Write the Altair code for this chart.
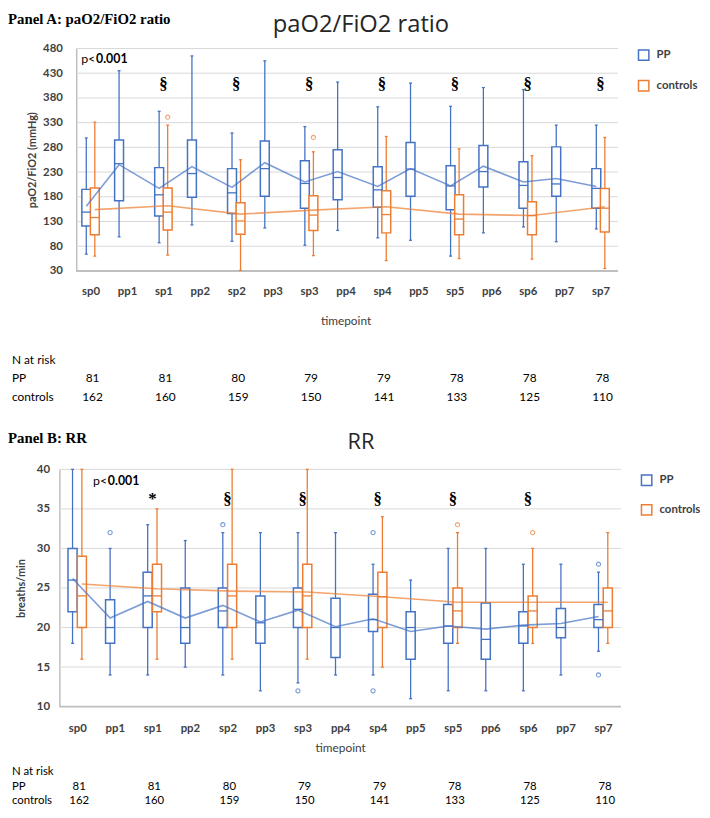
import altair as alt
import pandas as pd

categories = ["sp0", "pp1", "sp1", "pp2", "sp2", "pp3", "sp3", "pp4",
              "sp4", "pp5", "sp5", "pp6", "sp6", "pp7", "sp7"]
sp_categories = categories[0::2]

# ---------------- Panel A: paO2/FiO2 ratio ----------------
a_pp_low = [64, 99, 87, 123, 90, 117, 82, 112, 97, 92, 60, 107, 119, 89, 115]
a_pp_q1 = [121, 172, 141, 179, 146, 181, 157, 174, 159, 181, 154, 200, 157, 181, 157]
a_pp_med = [149, 247, 184, 227, 188, 237, 207, 219, 194, 236, 202, 231, 203, 206, 197]
a_pp_q3 = [195, 295, 239, 295, 237, 293, 253, 275, 241, 290, 243, 284, 251, 281, 237]
a_pp_high = [299, 435, 353, 465, 309, 455, 322, 412, 362, 410, 363, 401, 397, 325, 325]
a_pp_mean = [161, 245, 197, 241, 199, 249, 210, 231, 201, 237, 202, 242, 210, 217, 201]

a_ctrl_low = [60, 62, 31, 61, 51, 55, 54, 35]
a_ctrl_q1 = [103, 113, 104, 112, 107, 103, 103, 109]
a_ctrl_med = [138, 149, 131, 143, 144, 135, 142, 157]
a_ctrl_q3 = [198, 198, 168, 182, 192, 184, 170, 197]
a_ctrl_high = [331, 325, 255, 271, 302, 277, 263, 300]
a_ctrl_mean = [154, 162, 145, 153, 160, 145, 142, 160]

a_pp_out_cat = []
a_pp_out_val = []
a_ctrl_out_cat = ["sp1", "sp3"]
a_ctrl_out_val = [341, 300]

a_yticks = [30, 80, 130, 180, 230, 280, 330, 380, 430, 480]
a_sig_cat = ["sp1", "sp2", "sp3", "sp4", "sp5", "sp6", "sp7"]
a_sig_txt = ["§", "§", "§", "§", "§", "§", "§"]

# ---------------- Panel B: RR ----------------
b_pp_low = [18, 14, 14, 15, 14, 12, 13, 14, 14, 11, 12, 12, 12, 14, 17]
b_pp_q1 = [22, 18, 20, 18, 20, 18, 20, 16.2, 19.5, 16, 18, 16, 18, 18.7, 20]
b_pp_med = [26, 20, 24, 20, 22.1, 20.6, 22.3, 20, 21, 20, 20.2, 18.5, 20.2, 20, 21]
b_pp_q3 = [30, 23.5, 27, 25, 25, 24, 25, 23.7, 24.2, 22, 22.9, 23.1, 22, 22.4, 22.9]
b_pp_high = [40, 30, 33, 31, 32, 32, 32, 32, 28, 26, 30, 30, 28, 28, 27]
b_pp_mean = [26.2, 21.2, 23.3, 21.2, 22.8, 20.7, 22.2, 20.1, 21.1, 19.5, 20.2, 19.8, 20.3, 20.5, 21.4]

b_ctrl_low = [16, 16, 16, 16, 15, 18, 18, 18]
b_ctrl_q1 = [20, 22, 20, 20, 20, 20, 20, 20]
b_ctrl_med = [24, 24, 24, 24, 23.9, 22.1, 22.1, 22.1]
b_ctrl_q3 = [29, 28, 28, 28, 27, 25, 24, 25]
b_ctrl_high = [40, 35, 40, 40, 34, 32, 30, 32]
b_ctrl_mean = [25.5, 24.9, 24.6, 24.5, 23.9, 23.2, 23.2, 23.2]

b_pp_out_cat = ["pp1", "sp2", "sp3", "sp4", "sp4", "sp7", "sp7"]
b_pp_out_val = [32, 33, 12, 32, 12, 28, 14]
b_ctrl_out_cat = ["sp5", "sp6"]
b_ctrl_out_val = [33, 32]

b_yticks = [10, 15, 20, 25, 30, 35, 40]
b_sig_cat = ["sp1", "sp2", "sp3", "sp4", "sp5", "sp6"]
b_sig_txt = ["*", "§", "§", "§", "§", "§"]

# ---------------- N at risk ----------------
n_pp = [81, 81, 80, 79, 79, 78, 78, 78]
n_ctrl = [162, 160, 159, 150, 141, 133, 125, 110]

series_names = ["PP", "controls"]
series_colors = ["#4472c4", "#ed7d31"]

W, H = 702, 810
FONT = "Lato"
GREY = "#404040"


def box_frame(cats, low, q1, med, q3, high, mean, series):
    return pd.DataFrame({
        "cat": cats, "idx": [categories.index(c) for c in cats],
        "kind": [c[:2] for c in cats], "series": series,
        "low": low, "q1": q1, "med": med, "q3": q3, "high": high, "mean": mean,
    })


def out_frame(cats, vals, series):
    return pd.DataFrame({
        "cat": cats, "idx": [categories.index(c) for c in cats],
        "kind": [c[:2] for c in cats], "series": series, "val": vals,
    })


def panel(cfg):
    xs = alt.Scale(domain=[0, 14], range=cfg["xrange"], nice=False, zero=False)
    ys = alt.Scale(domain=cfg["ydomain"], range=cfg["yrange"], nice=False, zero=False)
    sc = alt.Scale(domain=series_names, range=series_colors)
    label_expr = "[" + ",".join("'%s'" % c for c in categories) + "][datum.value]"
    ax_x = alt.Axis(values=list(range(15)), labelExpr=label_expr, orient="bottom",
                    offset=cfg["yrange"][0] - H, domain=False, ticks=False, grid=False,
                    labelFlush=False, labelFont=FONT, labelFontWeight="bold",
                    labelFontSize=11.5, labelColor=GREY, labelPadding=cfg["xlabpad"],
                    title="timepoint", titleFont=FONT, titleFontWeight="normal",
                    titleFontSize=12, titleColor=GREY, titlePadding=cfg["xtitlepad"])
    ax_y = alt.Axis(values=cfg["yticks"], orient="left", offset=-cfg["axis_x"],
                    grid=False, ticks=False, domain=True, domainColor="#bfbfbf",
                    domainWidth=1.5, labelFont=FONT, labelFontWeight="bold",
                    labelFontSize=11.5, labelColor=GREY, labelPadding=cfg["ylabpad"],
                    title=cfg["ytitle"], titleFont=FONT, titleFontWeight="bold",
                    titleFontSize=11, titleColor=GREY, titlePadding=cfg["ytitlepad"])
    leg = alt.Legend(orient="none", legendX=cfg["legend_xy"][0], legendY=cfg["legend_xy"][1],
                     title=None, symbolType="square", symbolSize=110, symbolStrokeWidth=1.5,
                     symbolFillColor="white", labelFont=FONT, labelFontWeight="bold",
                     labelFontSize=11.5, labelColor=GREY, rowPadding=cfg["legend_rowpad"],
                     labelOffset=7)

    X = lambda f: alt.X(f, scale=xs, axis=ax_x)
    Y = lambda f: alt.Y(f, scale=ys, axis=ax_y)
    S = alt.Stroke("series:N", scale=sc, legend=leg)

    off = cfg["offsets"]
    pos_expr = ("datum.idx + (datum.series == 'PP' ? (datum.kind == 'pp' ? %f : %f) : %f)"
                % (off["pp_pp"], off["pp_sp"], off["ctrl"]))
    hw, cap = off["hw"], off["cap"]

    boxes = pd.concat([cfg["pp"], cfg["ctrl"]], ignore_index=True)
    base = alt.Chart(boxes).transform_calculate(pos=pos_expr).transform_calculate(
        left="datum.pos - %f" % hw, right="datum.pos + %f" % hw,
        cl="datum.pos - %f" % cap, cr="datum.pos + %f" % cap)

    grid_df = pd.DataFrame({"v": cfg["yticks"]})
    grid = alt.Chart(grid_df).mark_rule(color="#d9d9d9", strokeWidth=1).encode(
        x=alt.value(cfg["axis_x"]), x2=alt.value(cfg["grid_right"]), y=Y("v:Q"))
    bottom = alt.Chart(grid_df).transform_filter(
        "datum.v == %s" % cfg["ydomain"][0]).mark_rule(color="#bfbfbf", strokeWidth=2).encode(
        x=alt.value(cfg["axis_x"]), x2=alt.value(cfg["grid_right"]), y=Y("v:Q"))

    wh_lo = base.mark_rule(strokeWidth=1.3).encode(x=X("pos:Q"), y=Y("low:Q"), y2="q1:Q", stroke=S)
    wh_hi = base.mark_rule(strokeWidth=1.3).encode(x=X("pos:Q"), y=Y("q3:Q"), y2="high:Q", stroke=S)
    cap_lo = base.mark_rule(strokeWidth=1.3).encode(x=X("cl:Q"), x2="cr:Q", y=Y("low:Q"), stroke=S)
    cap_hi = base.mark_rule(strokeWidth=1.3).encode(x=X("cl:Q"), x2="cr:Q", y=Y("high:Q"), stroke=S)
    box = base.mark_rect(fill="white", strokeWidth=1.5).encode(
        x=X("left:Q"), x2="right:Q", y=Y("q1:Q"), y2="q3:Q", stroke=S)
    med = base.mark_rule(strokeWidth=1.3).encode(x=X("left:Q"), x2="right:Q", y=Y("med:Q"), stroke=S)
    mean = base.mark_line(strokeWidth=1.6, opacity=0.7).encode(
        x=X("pos:Q"), y=Y("mean:Q"), stroke=S, order="idx:Q")

    outs = pd.concat([cfg["pp_out"], cfg["ctrl_out"]], ignore_index=True)
    out = alt.Chart(outs).transform_calculate(pos=pos_expr).mark_point(
        shape="circle", filled=False, size=18, strokeWidth=1.1).encode(
        x=X("pos:Q"), y=Y("val:Q"), stroke=S)

    sig = alt.Chart(cfg["sig"]).mark_text(font="Liberation Serif", fontSize=17,
                                         fontWeight="bold", baseline="middle", color="black").encode(
        x=X("idx:Q"), y=alt.value(cfg["sig_y"]), text="txt:N")

    p1 = alt.Chart(pd.DataFrame({"t": ["p<"]})).mark_text(
        font=FONT, fontSize=12.5, align="left", baseline="middle", color="black").encode(
        x=alt.value(cfg["p_xy"][0]), y=alt.value(cfg["p_xy"][1]), text="t:N")
    p2 = alt.Chart(pd.DataFrame({"t": ["0.001"]})).mark_text(
        font=FONT, fontSize=12.5, fontWeight="bold", align="left", baseline="middle",
        color="black").encode(
        x=alt.value(cfg["p_xy"][0] + 15), y=alt.value(cfg["p_xy"][1]), text="t:N")

    head = alt.Chart(pd.DataFrame({"t": [cfg["panel_label"]]})).mark_text(
        font="Liberation Serif", fontSize=15, fontWeight="bold", align="left",
        baseline="top", color="black").encode(
        x=alt.value(0), y=alt.value(cfg["head_y"]), text="t:N")
    title = alt.Chart(pd.DataFrame({"t": [cfg["title"]]})).mark_text(
        font="Open Sans", fontSize=cfg["title_size"], align="center", baseline="top",
        color="#262626").encode(
        x=alt.value(357), y=alt.value(cfg["title_y"]), text="t:N")

    rf = cfg["risk_font"]
    risk = pd.DataFrame({"idx": [categories.index(c) for c in sp_categories],
                         "npp": n_pp, "nctrl": n_ctrl})
    r_pp = alt.Chart(risk).mark_text(font=FONT, fontSize=rf, align="center",
                                     baseline="middle", color="black", dx=2).encode(
        x=X("idx:Q"), y=alt.value(cfg["risk_y"][1]), text="npp:Q")
    r_ct = alt.Chart(risk).mark_text(font=FONT, fontSize=rf, align="center",
                                     baseline="middle", color="black", dx=2).encode(
        x=X("idx:Q"), y=alt.value(cfg["risk_y"][2]), text="nctrl:Q")
    row_labels = pd.DataFrame({"t": ["N at risk", "PP", "controls"], "y": cfg["risk_y"]})
    rl = alt.Chart(row_labels).mark_text(font=FONT, fontSize=rf, align="left",
                                        baseline="middle", color="black").encode(
        x=alt.value(4), y=alt.Y("y:Q", scale=None), text="t:N")

    return alt.layer(grid, bottom, wh_lo, wh_hi, cap_lo, cap_hi, box, med, mean, out,
                     sig, p1, p2, head, title, r_pp, r_ct, rl)


cfg_a = dict(
    xrange=[83.5, 599.4], ydomain=[30, 480], yrange=[261.3, 36.3], yticks=a_yticks,
    axis_x=69, grid_right=617, xlabpad=15, xtitlepad=19, ylabpad=14, ytitlepad=5,
    ytitle="paO2/FiO2 (mmHg)", legend_xy=[637, 37], legend_rowpad=13,
    offsets=dict(pp_pp=-0.217, pp_sp=-0.117, ctrl=0.117, hw=0.122, cap=0.04),
    pp=box_frame(categories, a_pp_low, a_pp_q1, a_pp_med, a_pp_q3, a_pp_high, a_pp_mean, "PP"),
    ctrl=box_frame(sp_categories, a_ctrl_low, a_ctrl_q1, a_ctrl_med, a_ctrl_q3, a_ctrl_high,
                   a_ctrl_mean, "controls"),
    pp_out=out_frame(a_pp_out_cat, a_pp_out_val, "PP"),
    ctrl_out=out_frame(a_ctrl_out_cat, a_ctrl_out_val, "controls"),
    sig=pd.DataFrame({"idx": [categories.index(c) for c in a_sig_cat], "txt": a_sig_txt}),
    sig_y=72, p_xy=[74, 47], panel_label="Panel A: paO2/FiO2 ratio", head_y=0,
    title="paO2/FiO2 ratio", title_y=1, title_size=24, risk_y=[351, 370, 389], risk_font=12,
)

cfg_b = dict(
    xrange=[70, 602], ydomain=[10, 40], yrange=[702, 462], yticks=b_yticks,
    axis_x=52, grid_right=620, xlabpad=16, xtitlepad=9, ylabpad=10, ytitlepad=10,
    ytitle="breaths/min", legend_xy=[640, 467], legend_rowpad=12,
    offsets=dict(pp_pp=-0.124, pp_sp=-0.124, ctrl=0.124, hw=0.121, cap=0.04),
    pp=box_frame(categories, b_pp_low, b_pp_q1, b_pp_med, b_pp_q3, b_pp_high, b_pp_mean, "PP"),
    ctrl=box_frame(sp_categories, b_ctrl_low, b_ctrl_q1, b_ctrl_med, b_ctrl_q3, b_ctrl_high,
                   b_ctrl_mean, "controls"),
    pp_out=out_frame(b_pp_out_cat, b_pp_out_val, "PP"),
    ctrl_out=out_frame(b_ctrl_out_cat, b_ctrl_out_val, "controls"),
    sig=pd.DataFrame({"idx": [categories.index(c) for c in b_sig_cat], "txt": b_sig_txt}),
    sig_y=492, p_xy=[86, 474], panel_label="Panel B: RR", head_y=423,
    title="RR", title_y=424, title_size=22, risk_y=[768, 783, 798], risk_font=11.5,
)

chart = alt.layer(panel(cfg_a), panel(cfg_b)).resolve_scale(
    x="independent", y="independent", stroke="independent"
).resolve_legend(stroke="independent").properties(
    width=W, height=H, autosize=alt.AutoSizeParams(type="none"), padding=0
).configure_view(strokeWidth=0)

chart.save("out.html", embed_options={"renderer": "svg", "actions": False})
